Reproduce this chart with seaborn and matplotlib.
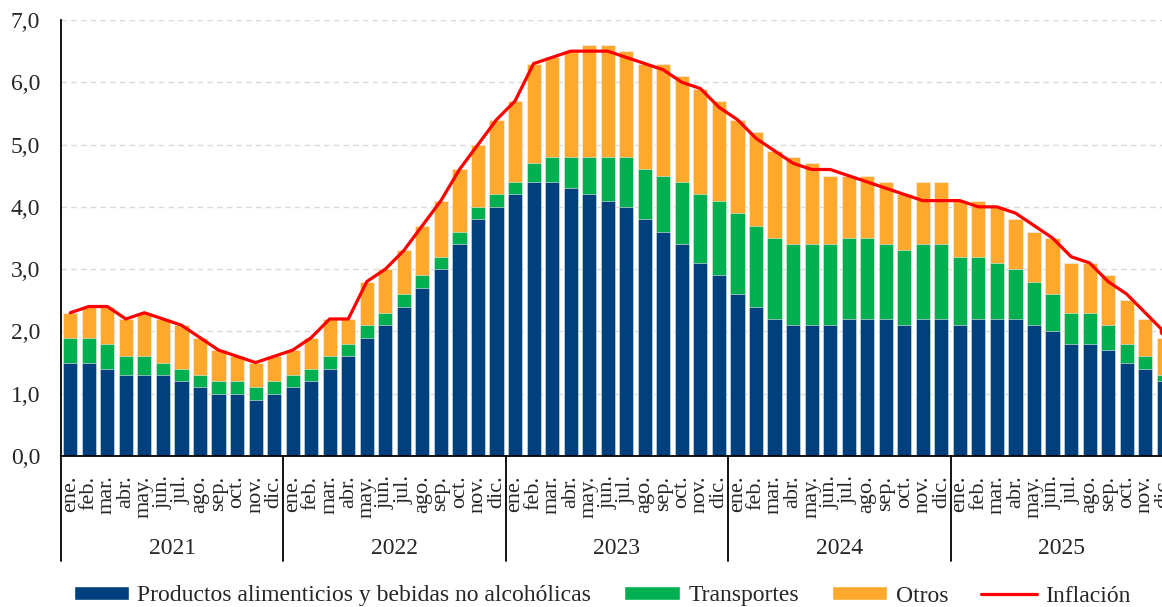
import matplotlib
matplotlib.use("Agg")
import matplotlib.pyplot as plt
import matplotlib.transforms as mtransforms
from matplotlib.lines import Line2D
from matplotlib.patches import Patch
import numpy as np
import pandas as pd
import seaborn as sns

sns.set_theme(style="white")
plt.rcParams["font.family"] = ["Liberation Serif", "DejaVu Serif"]

# ── Data (puntos porcentuales) ────────────────────────────────
years = ["2021", "2022", "2023", "2024", "2025"]
months = ["ene.", "feb.", "mar.", "abr.", "may.", "jun.",
          "jul.", "ago.", "sep.", "oct.", "nov.", "dic."]

alimentos = [1.5, 1.5, 1.4, 1.3, 1.3, 1.3, 1.2, 1.1, 1.0, 1.0, 0.9, 1.0,
             1.1, 1.2, 1.4, 1.6, 1.9, 2.1, 2.4, 2.7, 3.0, 3.4, 3.8, 4.0,
             4.2, 4.4, 4.4, 4.3, 4.2, 4.1, 4.0, 3.8, 3.6, 3.4, 3.1, 2.9,
             2.6, 2.4, 2.2, 2.1, 2.1, 2.1, 2.2, 2.2, 2.2, 2.1, 2.2, 2.2,
             2.1, 2.2, 2.2, 2.2, 2.1, 2.0, 1.8, 1.8, 1.7, 1.5, 1.4, 1.2]
transportes = [0.4, 0.4, 0.4, 0.3, 0.3, 0.2, 0.2, 0.2, 0.2, 0.2, 0.2, 0.2,
               0.2, 0.2, 0.2, 0.2, 0.2, 0.2, 0.2, 0.2, 0.2, 0.2, 0.2, 0.2,
               0.2, 0.3, 0.4, 0.5, 0.6, 0.7, 0.8, 0.8, 0.9, 1.0, 1.1, 1.2,
               1.3, 1.3, 1.3, 1.3, 1.3, 1.3, 1.3, 1.3, 1.2, 1.2, 1.2, 1.2,
               1.1, 1.0, 0.9, 0.8, 0.7, 0.6, 0.5, 0.5, 0.4, 0.3, 0.2, 0.1]
otros = [0.4, 0.5, 0.6, 0.6, 0.7, 0.7, 0.7, 0.6, 0.5, 0.4, 0.4, 0.4,
         0.4, 0.5, 0.6, 0.4, 0.7, 0.7, 0.7, 0.8, 0.9, 1.0, 1.0, 1.2,
         1.3, 1.6, 1.6, 1.7, 1.8, 1.8, 1.7, 1.7, 1.8, 1.7, 1.7, 1.6,
         1.5, 1.5, 1.4, 1.4, 1.3, 1.1, 1.0, 1.0, 1.0, 0.9, 1.0, 1.0,
         0.9, 0.9, 0.9, 0.8, 0.8, 0.9, 0.8, 0.8, 0.8, 0.7, 0.6, 0.6]
inflacion = [2.3, 2.4, 2.4, 2.2, 2.3, 2.2, 2.1, 1.9, 1.7, 1.6, 1.5, 1.6,
             1.7, 1.9, 2.2, 2.2, 2.8, 3.0, 3.3, 3.7, 4.1, 4.6, 5.0, 5.4,
             5.7, 6.3, 6.4, 6.5, 6.5, 6.5, 6.4, 6.3, 6.2, 6.0, 5.9, 5.6,
             5.4, 5.1, 4.9, 4.7, 4.6, 4.6, 4.5, 4.4, 4.3, 4.2, 4.1, 4.1,
             4.1, 4.0, 4.0, 3.9, 3.7, 3.5, 3.2, 3.1, 2.8, 2.6, 2.3, 2.0]

labels = {
    "alimentos": "Productos alimenticios y bebidas no alcohólicas",
    "transportes": "Transportes",
    "otros": "Otros",
    "inflacion": "Inflación",
}
colors = {"alimentos": "#00407F", "transportes": "#00B050",
          "otros": "#FFA82E", "inflacion": "#FF0000"}

df = pd.DataFrame({
    "idx": np.arange(len(alimentos)),
    "alimentos": alimentos,
    "transportes": transportes,
    "otros": otros,
    "inflacion": inflacion,
})
df["cum_tr"] = df["alimentos"] + df["transportes"]
df["cum_ot"] = df["cum_tr"] + df["otros"]

FS = 17

# ── Figure ────────────────────────────────────────────────────
fig = plt.figure(figsize=(11.62, 6.07), dpi=100)
ax = fig.add_axes([61 / 1162, 151 / 607, 1112 / 1162, 436 / 607])

bar_kw = dict(native_scale=True, width=0.76, edgecolor="#F2F2F2",
              linewidth=0.4, ax=ax, zorder=2)
sns.barplot(data=df, x="idx", y="cum_ot", color=colors["otros"],
            saturation=1, **bar_kw)
sns.barplot(data=df, x="idx", y="cum_tr", color=colors["transportes"],
            saturation=1, **bar_kw)
sns.barplot(data=df, x="idx", y="alimentos", color=colors["alimentos"],
            saturation=1, **bar_kw)
sns.lineplot(data=df, x="idx", y="inflacion", color=colors["inflacion"],
             linewidth=2.3, ax=ax, zorder=3)
ax.plot(df["idx"].iloc[-1], df["inflacion"].iloc[-1], "o",
        color=colors["inflacion"], markersize=6, zorder=3)

n = len(df)
ax.set_xlim(-0.5, n - 0.5)
ax.set_ylim(0, 7)
ax.set_yticks(np.arange(0, 7.01, 1))
ax.set_yticklabels([f"{v:.1f}".replace(".", ",") for v in np.arange(0, 7.01, 1)])
ax.yaxis.grid(True, linestyle=(0, (4, 3)), color="#D9D9D9", linewidth=1)
ax.set_axisbelow(True)
ax.tick_params(axis="y", direction="in", length=6, width=1.2, color="black",
               labelsize=FS, pad=15)

ax.set_xticks(df["idx"])
ax.set_xticklabels([months[i % 12] for i in range(n)], rotation=90,
                   fontsize=16, va="top", ha="center")
ax.tick_params(axis="x", length=0, pad=14)
ax.set_xlabel("")
ax.set_ylabel("")

for side in ["top", "right"]:
    ax.spines[side].set_visible(False)
ax.spines["left"].set_color("black")
ax.spines["bottom"].set_color("black")
ax.spines["left"].set_linewidth(1.3)
ax.spines["bottom"].set_linewidth(1.3)

# year separators and labels under the month labels
trans = mtransforms.blended_transform_factory(ax.transData, ax.transAxes)
for k, year in enumerate(years):
    ax.add_line(Line2D([12 * k - 0.5, 12 * k - 0.5], [0, -0.24],
                       transform=trans, color="black", linewidth=1.3,
                       clip_on=False))
    ax.text(12 * k + 5.5, -0.212, year, transform=trans, ha="center",
            va="center", fontsize=FS)

handles = [
    Patch(facecolor=colors["alimentos"], label=labels["alimentos"]),
    Patch(facecolor=colors["transportes"], label=labels["transportes"]),
    Patch(facecolor=colors["otros"], label=labels["otros"]),
    Line2D([0], [0], color=colors["inflacion"], linewidth=2.3,
           label=labels["inflacion"]),
]
fig.legend(handles=handles, loc="center", ncol=4, frameon=False,
           bbox_to_anchor=(602 / 1162, 11 / 607), fontsize=FS,
           handlelength=2.35, handleheight=0.5, handletextpad=0.35,
           columnspacing=1.4)

fig.savefig("out.png", dpi=100)
